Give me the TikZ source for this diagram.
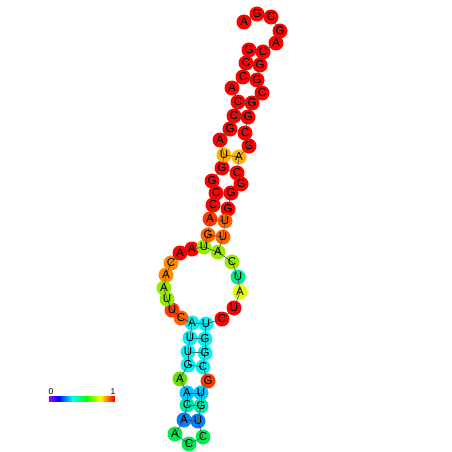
\documentclass[tikz,border=0pt]{standalone}
\usepackage{fontspec}
\setmainfont{Liberation Sans}
\pgfdeclarelayer{bg}
\pgfdeclarelayer{mid}
\pgfsetlayers{bg,mid,main}
\definecolor{cR}{RGB}{255,0,0}
\definecolor{cRO}{RGB}{255,55,0}
\definecolor{cO}{RGB}{255,100,0}
\definecolor{cOL}{RGB}{255,140,0}
\definecolor{cAm}{RGB}{255,180,0}
\definecolor{cY}{RGB}{225,255,0}
\definecolor{cYG}{RGB}{150,235,0}
\definecolor{cGY}{RGB}{100,225,0}
\definecolor{cGr}{RGB}{0,235,80}
\definecolor{cGC}{RGB}{0,235,140}
\definecolor{cMint}{RGB}{0,232,170}
\definecolor{cCy}{RGB}{0,242,242}
\definecolor{cSky}{RGB}{0,200,255}
\definecolor{cBl}{RGB}{0,130,255}
\newcommand\nuc[5]{%
  \node[basetext] (#1) at (#2,#3) {#4};
  \begin{pgfonlayer}{bg}\fill[#5] (#1.center) circle[radius=7.5];\end{pgfonlayer}}
\begin{document}
\begin{tikzpicture}[x=1pt,y=-1pt,
  basetext/.style={inner sep=0pt,font=\fontsize{11.5}{12}\selectfont},
  bbone/.style={line width=0.6pt,draw=black!70},
  pairln/.style={line width=0.6pt,draw=black!70},
  barlabel/.style={inner sep=0pt,font=\fontsize{8.5}{9}\selectfont}]
\useasboundingbox (0,0) rectangle (452,452);
\nuc{n1}{244}{22}{A}{cR}
\nuc{n2}{257}{14}{G}{cR}
\nuc{n3}{271}{17}{C}{cR}
\nuc{n4}{280}{31}{G}{cR}
\nuc{n5}{276}{43}{A}{cR}
\nuc{n6}{263}{52}{C}{cR}
\nuc{n7}{260}{65}{G}{cR}
\nuc{n8}{257}{80}{G}{cR}
\nuc{n9}{262}{93}{C}{cR}
\nuc{n10}{252}{103}{G}{cR}
\nuc{n11}{248}{117}{G}{cR}
\nuc{n12}{245}{133}{C}{cR}
\nuc{n13}{249}{146}{G}{cR}
\nuc{n14}{239}{157}{A}{cAm}
\nuc{n15}{237}{173}{C}{cR}
\nuc{n16}{241}{184}{G}{cR}
\nuc{n17}{231}{193}{G}{cR}
\nuc{n18}{228}{209}{G}{cR}
\nuc{n19}{225}{221}{U}{cO}
\nuc{n20}{223}{237}{U}{cO}
\nuc{n21}{218}{252}{A}{cYG}
\nuc{n22}{232}{262}{C}{cYG}
\nuc{n23}{238}{277}{U}{cGC}
\nuc{n24}{240}{292}{A}{cY}
\nuc{n25}{234}{308}{U}{cR}
\nuc{n26}{222}{319}{C}{cR}
\nuc{n27}{206}{324}{U}{cCy}
\nuc{n28}{205}{339}{G}{cCy}
\nuc{n29}{205}{353}{G}{cCy}
\nuc{n30}{203}{367}{C}{cCy}
\nuc{n31}{208}{381}{G}{cRO}
\nuc{n32}{201}{393}{U}{cSky}
\nuc{n33}{201}{406}{G}{cMint}
\nuc{n34}{198}{421}{U}{cBl}
\nuc{n35}{203}{437}{C}{cGr}
\nuc{n36}{189}{444}{C}{cGr}
\nuc{n37}{175}{434}{A}{cGr}
\nuc{n38}{184}{420}{A}{cBl}
\nuc{n39}{187}{405}{C}{cMint}
\nuc{n40}{187}{393}{A}{cSky}
\nuc{n41}{180}{379}{A}{cGY}
\nuc{n42}{188}{365}{G}{cCy}
\nuc{n43}{188}{352}{U}{cCy}
\nuc{n44}{190}{338}{U}{cCy}
\nuc{n45}{192}{323}{A}{cCy}
\nuc{n46}{181}{318}{C}{cO}
\nuc{n47}{172}{310}{U}{cRO}
\nuc{n48}{167}{299}{U}{cYG}
\nuc{n49}{164}{288}{A}{cYG}
\nuc{n50}{166}{275}{A}{cOL}
\nuc{n51}{171}{263}{C}{cOL}
\nuc{n52}{180}{253}{A}{cR}
\nuc{n53}{192}{249}{A}{cR}
\nuc{n54}{204}{247}{U}{cYG}
\nuc{n55}{208}{235}{G}{cO}
\nuc{n56}{210}{219}{A}{cRO}
\nuc{n57}{213}{205}{C}{cR}
\nuc{n58}{216}{193}{C}{cR}
\nuc{n59}{212}{181}{G}{cR}
\nuc{n60}{222}{168}{G}{cR}
\nuc{n61}{224}{155}{U}{cAm}
\nuc{n62}{220}{140}{A}{cR}
\nuc{n63}{230}{129}{G}{cR}
\nuc{n64}{234}{116}{C}{cR}
\nuc{n65}{238}{102}{C}{cR}
\nuc{n66}{232}{88}{A}{cR}
\nuc{n67}{243}{77}{C}{cR}
\nuc{n68}{246}{63}{C}{cR}
\nuc{n69}{249}{50}{G}{cR}
\begin{pgfonlayer}{mid}
\foreach \i [evaluate=\i as \j using int(\i+1)] in {1,...,68}
  \draw[bbone] (n\i.center) -- (n\j.center);
\foreach \a/\b in {6/69,7/68,8/67,10/65,11/64,12/63,14/61,15/60,17/58,18/57,19/56,20/55,21/54,27/45,28/44,29/43,30/42,32/40,33/39,34/38}
  \draw[pairln] (n\a.center) -- (n\b.center);
\end{pgfonlayer}
\foreach \k in {0,...,65}{
  \pgfmathsetmacro\hh{0.78*(1-\k/65)}
  \definecolor{tmpc}{hsb}{\hh,1,1}
  \fill[tmpc] (49+\k,396) rectangle (50.3+\k,402);
}
\node[barlabel] (lo) at (51,392) {0};
\node[barlabel] (hi) at (113,392) {1};
\end{tikzpicture}
\end{document}
